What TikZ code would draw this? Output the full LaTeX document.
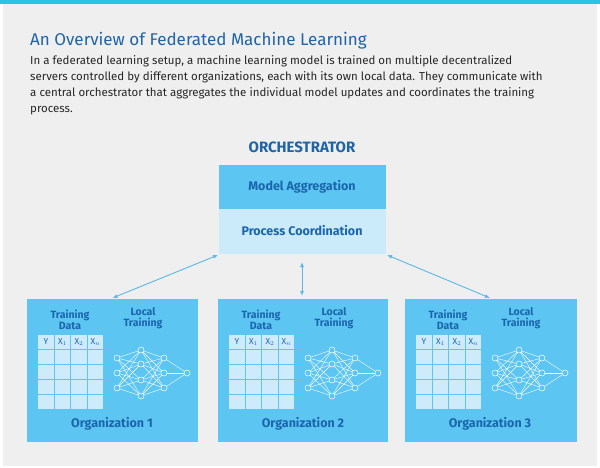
\documentclass[tikz,border=0pt]{standalone}
\usepackage{fontspec}
\setmainfont{Fira Sans}
\usetikzlibrary{arrows.meta}
\definecolor{bg}{HTML}{EFEFEF}
\definecolor{topline}{HTML}{2BC4E0}
\definecolor{title}{HTML}{1E64A6}
\definecolor{lab}{HTML}{1A66AD}
\definecolor{boxd}{HTML}{5CC5F2}
\definecolor{boxl}{HTML}{CBEAFA}
\definecolor{cell}{HTML}{CDEBFA}
\definecolor{arr}{HTML}{5BB8E6}
\tikzset{
  labt/.style={text=lab,font=\bfseries\fontsize{12.5}{13}\selectfont,align=center},
  labs/.style={text=lab,font=\bfseries\fontsize{10.5}{11}\selectfont,align=center},
  hdr/.style={text=lab,font=\fontsize{8.5}{9}\selectfont},
  nn/.style={circle,draw=white,fill=boxd,line width=0.5pt,inner sep=0pt,minimum size=6pt},
  conn/.style={draw=arr,line width=0.9pt,{Latex[length=5pt,width=4pt]}-{Latex[length=5pt,width=4pt]}}
}
\begin{document}
\begin{tikzpicture}[x=1pt,y=-1pt]
\useasboundingbox (0,0) rectangle (600,468);
\fill[white] (0,0) rectangle (600,468);
\fill[bg] (3,4) rectangle (597,466);
\fill[topline] (0,0) rectangle (600,4);
\node[anchor=west,text=title,font=\fontsize{17}{19}\selectfont,inner sep=0pt] (ttl) at (30,41) {An Overview of Federated Machine Learning};
\node[anchor=north west,align=left,text=black!85,font=\fontsize{11.5}{16}\selectfont,inner sep=0pt] (body) at (30,55) {In a federated learning setup, a machine learning model is trained on multiple decentralized\\servers controlled by different organizations, each with its own local data. They communicate with\\a central orchestrator that aggregates the individual model updates and coordinates the training\\process.};
\node[text=title,font=\bfseries\fontsize{15}{16}\selectfont] (orch) at (302,147) {ORCHESTRATOR};
\fill[boxd] (219,165) rectangle (386,209);
\node[labt] (ma) at (302,187) {Model Aggregation};
\fill[boxl] (219,209) rectangle (386,254);
\node[labt] (pc) at (302,231) {Process Coordination};
\coordinate (ol) at (218,255);
\coordinate (om) at (302,262);
\coordinate (or) at (387,255);
\foreach \i/\x/\w in {1/27/171,2/218/170,3/405/172}{
  \fill[boxd] (\x,299) rectangle ++(\w,143);
  \coordinate (top\i) at (\x+0.5*\w,298);
  \begin{scope}[shift={(\x,299)}]
    \node[labs] at (43,21) {Training\\Data};
    \node[labs] at (116,19) {Local\\Training};
    \foreach \c in {0,1,2,3} \foreach \r in {0,...,4}
      \fill[cell] (11+\c*16.5,36+\r*15) rectangle ++(15.5,14);
    \node[hdr] at (19,43) {Y};
    \node[hdr] at (35.5,43) {X$_1$};
    \node[hdr] at (52,43) {X$_2$};
    \node[hdr] at (68.5,43) {X$_n$};
    \foreach \a in {59,74,89} \foreach \b in {51,65,81,97}
      \draw[white,line width=0.4pt] (90,\a) -- (114,\b);
    \foreach \b in {51,65,81,97} \foreach \c in {59,74,89}
      \draw[white,line width=0.4pt] (114,\b) -- (137,\c);
    \foreach \c in {59,74,89} \draw[white,line width=0.4pt] (137,\c) -- (160,74);
    \foreach \a in {59,74,89} \node[nn] at (90,\a) {};
    \foreach \b in {51,65,81,97} \node[nn] at (114,\b) {};
    \foreach \c in {59,74,89} \node[nn] at (137,\c) {};
    \node[nn] at (160,74) {};
    \node[text=lab,font=\bfseries\fontsize{12.5}{13}\selectfont] at (85,125) {Organization \i};
  \end{scope}
}
\draw[conn] (ol) -- (top1);
\draw[conn] (om) -- (302,296);
\draw[conn] (or) -- (490,298);
\end{tikzpicture}
\end{document}
